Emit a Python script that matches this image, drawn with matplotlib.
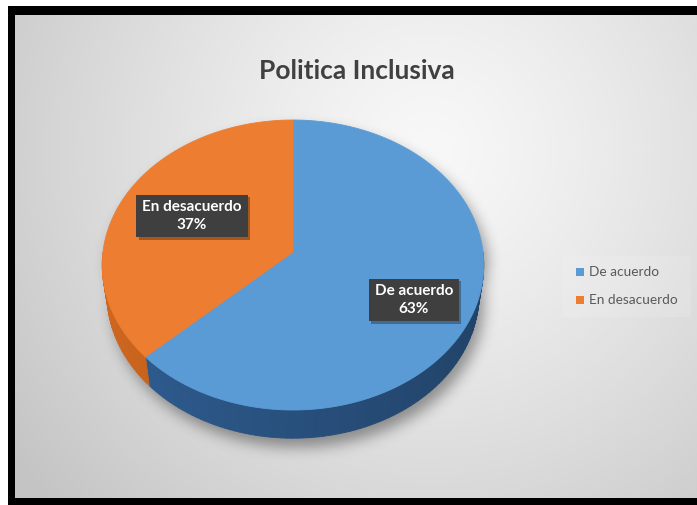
import numpy as np
import matplotlib
matplotlib.use("Agg")
import matplotlib.pyplot as plt
from matplotlib.patches import Polygon, Rectangle
from matplotlib.path import Path
import matplotlib.patheffects as pe

# ---- chart data ----
chart_title = "Politica Inclusiva"
categories = ["De acuerdo", "En desacuerdo"]
percentages = [63, 37]

# ---- styling ----
top_colors = ["#5B9BD5", "#ED7D31"]
side_colors = [np.array([40, 80, 125]) / 255, np.array([178, 88, 26]) / 255]
label_xy = [(414, 300), (192, 216)]
legend_rows_y = [272, 300]
FONT = "Lato"

W, H = 697, 505
fig = plt.figure(figsize=(W / 100, H / 100), dpi=100)
ax = fig.add_axes([0, 0, 1, 1])
fig.patch.set_facecolor("white")

# black frame around the chart area
ax.add_patch(Rectangle((8, 6), W, H, facecolor="black", edgecolor="none", zorder=0))

# chart area: soft radial gradient
x0, y0, x1, y1 = 15, 15, W, 498
xs = np.arange(x0, x1) + 0.5
ys = np.arange(y0, y1) + 0.5
XX, YY = np.meshgrid(xs, ys)
rr = np.hypot(XX - 430, YY - 150)
gray = 248 - 52 * np.clip(rr / 520, 0, 1) ** 1.25
ax.imshow(np.dstack([gray, gray, gray]) / 255, extent=(x0, x1, y1, y0),
          zorder=1, interpolation="bilinear")

# ---- perspective pie geometry ----
elev = np.deg2rad(49.2)
dist = 7.28
focal = 190 * dist
cx, cy = 293, 252
thick = 0.245


def project(t, rad=1.0, z=0.0):
    x = rad * np.cos(t)
    y = rad * np.sin(t)
    depth = dist + y * np.cos(elev) - z * np.sin(elev)
    up = y * np.sin(elev) + z * np.cos(elev)
    return cx + focal * x / depth, cy - focal * up / depth


# slice angle ranges: start at 12 o'clock, run clockwise
fractions = np.array(percentages, dtype=float) / sum(percentages)
cum = np.concatenate([[0], np.cumsum(fractions)])
spans = [(90 - cum[i + 1] * 360, 90 - cum[i] * 360) for i in range(len(fractions))]

# soft drop shadow under the pie
tb = np.linspace(0, np.pi, 200)
tf = np.linspace(np.pi, 2 * np.pi, 200)
bx, by = project(tb)
fx, fy = project(tf, z=-thick)
sil = Path(np.column_stack([np.concatenate([bx, fx]) + 5,
                            np.concatenate([by, fy]) + 9]))
PX, PY = np.meshgrid(np.arange(W) + 0.5, np.arange(H) + 0.5)
mask = sil.contains_points(np.column_stack([PX.ravel(), PY.ravel()])).reshape(H, W).astype(float)
sig = 7.0
kx = np.arange(-int(3 * sig), int(3 * sig) + 1)
kern = np.exp(-0.5 * (kx / sig) ** 2)
kern /= kern.sum()
blur = np.apply_along_axis(lambda v: np.convolve(v, kern, mode="same"), 1, mask)
blur = np.apply_along_axis(lambda v: np.convolve(v, kern, mode="same"), 0, blur)
shadow = np.zeros((H, W, 4))
shadow[..., 3] = 0.38 * blur
ax.imshow(shadow, extent=(0, W, H, 0), zorder=2, interpolation="bilinear")

# front side walls with light falloff
for (lo, hi), base in zip(spans, side_colors):
    for off in (-360, 0, 360):
        a = max(lo, -180 + off)
        b = min(hi, 0 + off)
        if b <= a:
            continue
        ts = np.deg2rad(np.linspace(a, b, max(int((b - a) / 1.5), 2) + 1))
        for t0, t1 in zip(ts[:-1], ts[1:]):
            tm = 0.5 * (t0 + t1)
            shade = np.clip(base * (1 - 0.17 * np.cos(tm)), 0, 1)
            ux0, uy0 = project(t0)
            ux1, uy1 = project(t1)
            lx1, ly1 = project(t1, z=-thick)
            lx0, ly0 = project(t0, z=-thick)
            ax.add_patch(Polygon([(ux0, uy0), (ux1, uy1), (lx1, ly1), (lx0, ly0)],
                                 closed=True, facecolor=shade, edgecolor=shade,
                                 linewidth=0.6, zorder=3))

# top faces of the slices
for (lo, hi), col in zip(spans, top_colors):
    ts = np.deg2rad(np.linspace(lo, hi, 300))
    ax_, ay_ = project(ts)
    pts = [(cx, cy)] + list(zip(ax_, ay_))
    ax.add_patch(Polygon(pts, closed=True, facecolor=col, edgecolor=col,
                         linewidth=0.6, zorder=4))

# data labels in dark callout boxes with a small drop shadow
for (lx, ly), cat, pct in zip(label_xy, categories, percentages):
    t = ax.text(lx, ly, f"{cat}\n{pct}%", ha="center", va="center",
                fontsize=11, fontweight="bold", family=FONT, color="white",
                linespacing=1.3, zorder=6,
                bbox=dict(boxstyle="square,pad=0.38", facecolor="#3f3f3f",
                          edgecolor="none"))
    t.get_bbox_patch().set_path_effects([
        pe.SimplePatchShadow(offset=(1.5, -1.5), shadow_rgbFace="black", alpha=0.3),
        pe.Normal()])

# title
ax.text(357, 71, chart_title, ha="center", va="center", fontsize=19,
        fontweight="bold", family=FONT, color="#404040", zorder=6)

# legend
ax.add_patch(Rectangle((563, 256), 128, 61, facecolor="white", alpha=0.12,
                       edgecolor="none", zorder=5))
for yy, cat, col in zip(legend_rows_y, categories, top_colors):
    ax.add_patch(Rectangle((576, yy - 4), 8, 8, facecolor=col, edgecolor="none", zorder=6))
    ax.text(589, yy, cat, ha="left", va="center", fontsize=9.8, family=FONT,
            color="#595959", zorder=6)

ax.set_xlim(0, W)
ax.set_ylim(H, 0)
ax.set_aspect("auto")
ax.axis("off")
fig.savefig("out.png", dpi=100, facecolor="white")
